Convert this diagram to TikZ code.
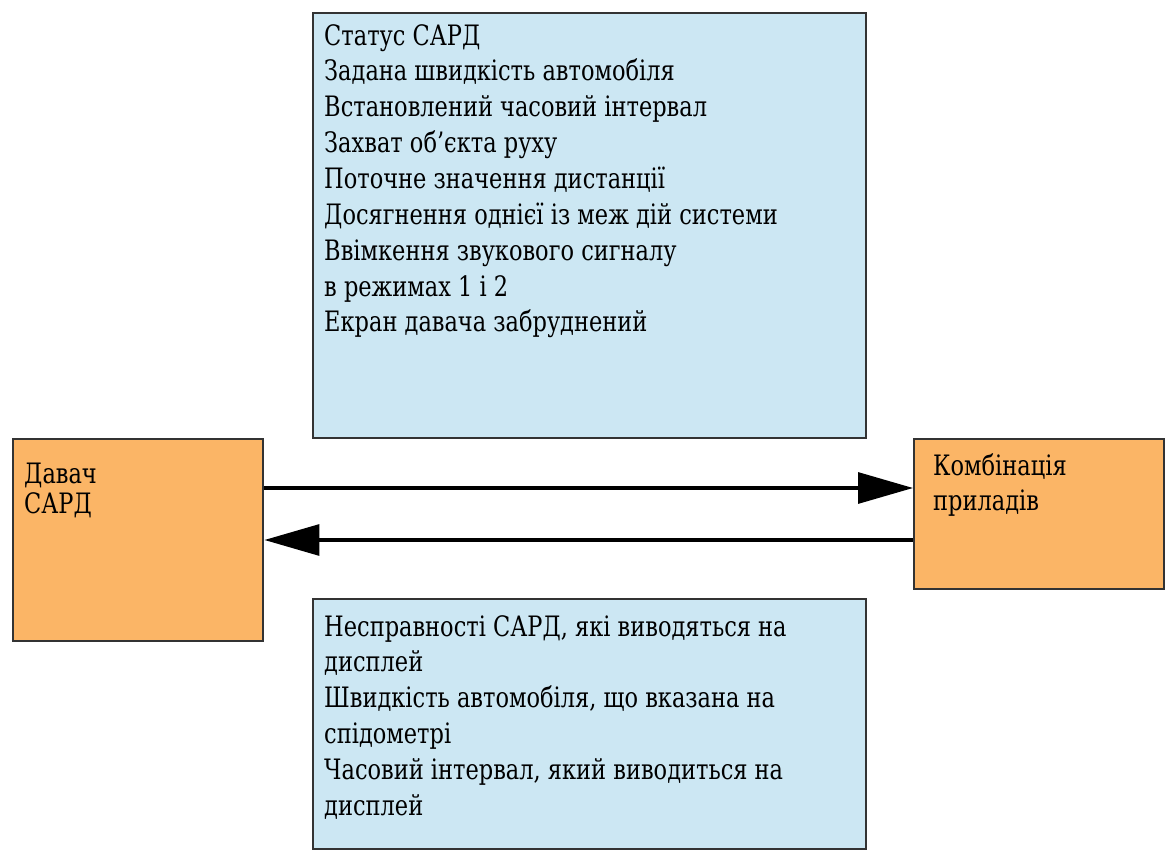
\documentclass[tikz,border=0pt]{standalone}
\usepackage{fontspec}
\setmainfont{DejaVu Serif}[FakeStretch=0.8]
\usepackage{tikz}
\usetikzlibrary{arrows.meta,positioning}

\definecolor{paleblue}{RGB}{204,231,243}
\definecolor{paleorange}{RGB}{251,181,102}

\begin{document}
\begin{tikzpicture}[
    panel/.style={rectangle, draw=black!80, line width=1.4pt, anchor=north west, inner sep=0pt, font=\rmfamily\fontsize{16}{20.4}\selectfont},
    arrow/.style={-{Triangle[length=1.1cm, width=0.62cm]}, line width=1.8pt, draw=black},
]
    \useasboundingbox (0,0) rectangle (23.32,-17.04);

    % status / faults panels
    \node[panel, fill=paleblue] (status) at (6.24,-0.24)
        {\parbox[t][8.5cm][t]{11.06cm}{\leftskip=0.22cm\vspace{0.22cm}
        Статус САРД\\
        Задана швидкість автомобіля\\
        Встановлений часовий інтервал\\
        Захват об'єкта руху\\
        Поточне значення дистанції\\
        Досягнення однієї із меж дій системи\\
        Ввімкення звукового сигналу\\
        в режимах 1 і 2\\
        Екран давача забруднений}};

    \node[panel, fill=paleblue] (faults) at (6.24,-11.96)
        {\parbox[t][5.0cm][t]{11.06cm}{\leftskip=0.22cm\vspace{0.32cm}
        Несправності САРД, які виводяться на\\
        дисплей\\
        Швидкість автомобіля, що вказана на\\
        спідометрі\\
        Часовий інтервал, який виводиться на\\
        дисплей}};

    % units
    \node[panel, fill=paleorange] (davach) at (0.24,-8.76)
        {\parbox[t][4.04cm][t]{5.0cm}{\leftskip=0.22cm\baselineskip=0.6cm\vspace{0.48cm}
        Давач\\
        САРД}};

    \node[panel, fill=paleorange] (kombi) at (18.26,-8.76)
        {\parbox[t][3.0cm][t]{5.0cm}{\leftskip=0.38cm\vspace{0.28cm}
        Комбінація\\
        приладів}};

    \draw[arrow] ([yshift=-1.0cm]davach.north east) -- ([yshift=-1.0cm]kombi.north west);
    \draw[arrow] ([yshift=-2.04cm]kombi.north west) -- ([yshift=-2.04cm]davach.north east);

\end{tikzpicture}
\end{document}
